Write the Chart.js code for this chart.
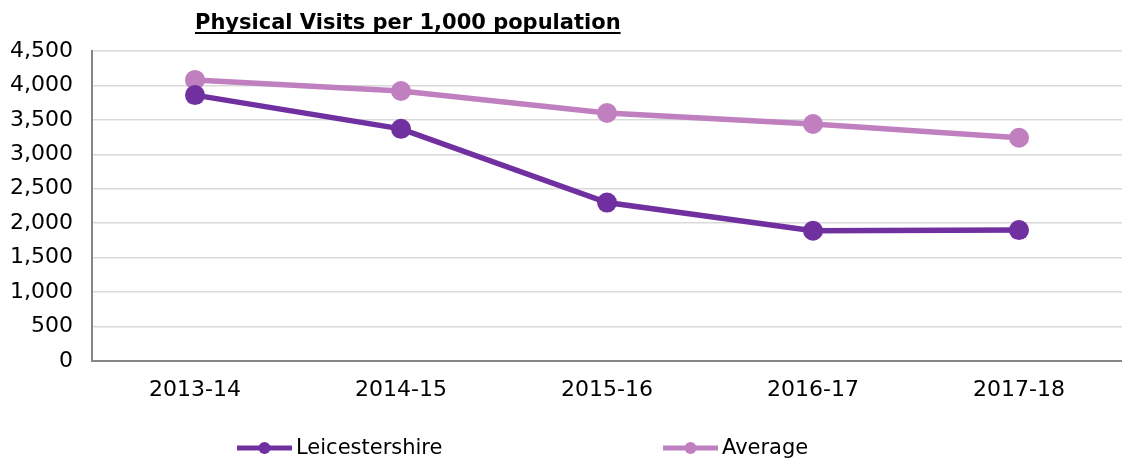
<!DOCTYPE html>
<html>
<head>
<meta charset="utf-8">
<script src="https://cdn.jsdelivr.net/npm/chart.js@4"></script>
<style>
html,body{margin:0;padding:0;overflow:hidden;background:#fff;width:1122px;height:461px;}
canvas{display:block;}
</style>
</head>
<body>
<canvas id="c" width="1132" height="461"></canvas>
<script>
const categories = ["2013-14","2014-15","2015-16","2016-17","2017-18"];
const leicestershire = [3860, 3370, 2300, 1890, 1900];
const average = [4080, 3920, 3600, 3440, 3240];
const seriesNames = ["Leicestershire","Average"];
const chartTitle = "Physical Visits per 1,000 population";
const colors = ["#7030A0", "#C080C0"];
const FONT = "'DejaVu Sans', Verdana, sans-serif";

const customPlugin = {
  id: 'custom',
  afterDraw(chart) {
    const ctx = chart.ctx;
    ctx.save();
    // title
    ctx.font = "bold 21px " + FONT;
    ctx.fillStyle = "#000";
    ctx.textBaseline = "alphabetic";
    ctx.textAlign = "left";
    const tx = 195;
    ctx.fillText(chartTitle, tx, 29);
    const w = ctx.measureText(chartTitle).width;
    ctx.fillRect(tx, 32, w, 2);
    // legend
    const items = [{x:237},{x:663}];
    chart.data.datasets.forEach((ds, i) => {
      const x = items[i].x, y = 448;
      ctx.strokeStyle = ds.borderColor;
      ctx.lineWidth = 5;
      ctx.beginPath(); ctx.moveTo(x, y); ctx.lineTo(x + 55, y); ctx.stroke();
      ctx.fillStyle = ds.borderColor;
      ctx.beginPath(); ctx.arc(x + 27.5, y, 6, 0, Math.PI * 2); ctx.fill();
      ctx.fillStyle = "#000";
      ctx.font = "21px " + FONT;
      ctx.textBaseline = "middle";
      ctx.fillText(ds.label, x + 59, y + 1);
    });
    ctx.restore();
  }
};

new Chart(document.getElementById('c'), {
  type: 'line',
  data: {
    labels: categories,
    datasets: [
      { label: seriesNames[0], data: leicestershire, borderColor: colors[0], backgroundColor: colors[0],
        borderWidth: 5.5, pointRadius: 10, pointHoverRadius: 10, pointBackgroundColor: colors[0], pointBorderWidth: 0, tension: 0 },
      { label: seriesNames[1], data: average, borderColor: colors[1], backgroundColor: colors[1],
        borderWidth: 5.5, pointRadius: 10, pointHoverRadius: 10, pointBackgroundColor: colors[1], pointBorderWidth: 0, tension: 0 }
    ]
  },
  options: {
    responsive: false,
    animation: false,
    events: [],
    layout: { padding: { top: 51, left: 0, right: 0, bottom: 0 } },
    plugins: { legend: { display: false }, title: { display: false }, tooltip: { enabled: false } },
    scales: {
      x: {
        offset: true,
        grid: { display: false, drawTicks: false },
        border: { display: true, color: '#868686', width: 2 },
        ticks: { color: '#000', font: { family: FONT, size: 22 }, padding: 16, maxRotation: 0 },
        afterFit(scale) { scale.height = 100; }
      },
      y: {
        min: 0, max: 4500,
        grid: { color: '#d9d9d9', lineWidth: 1.5, drawTicks: false },
        border: { display: true, color: '#868686', width: 2 },
        ticks: { stepSize: 500, color: '#000', font: { family: FONT, size: 22 }, padding: 19,
          callback: v => v.toLocaleString('en-US') },
        afterFit(scale) { scale.width = 92; }
      }
    }
  },
  plugins: [customPlugin]
});
</script>
</body>
</html>
